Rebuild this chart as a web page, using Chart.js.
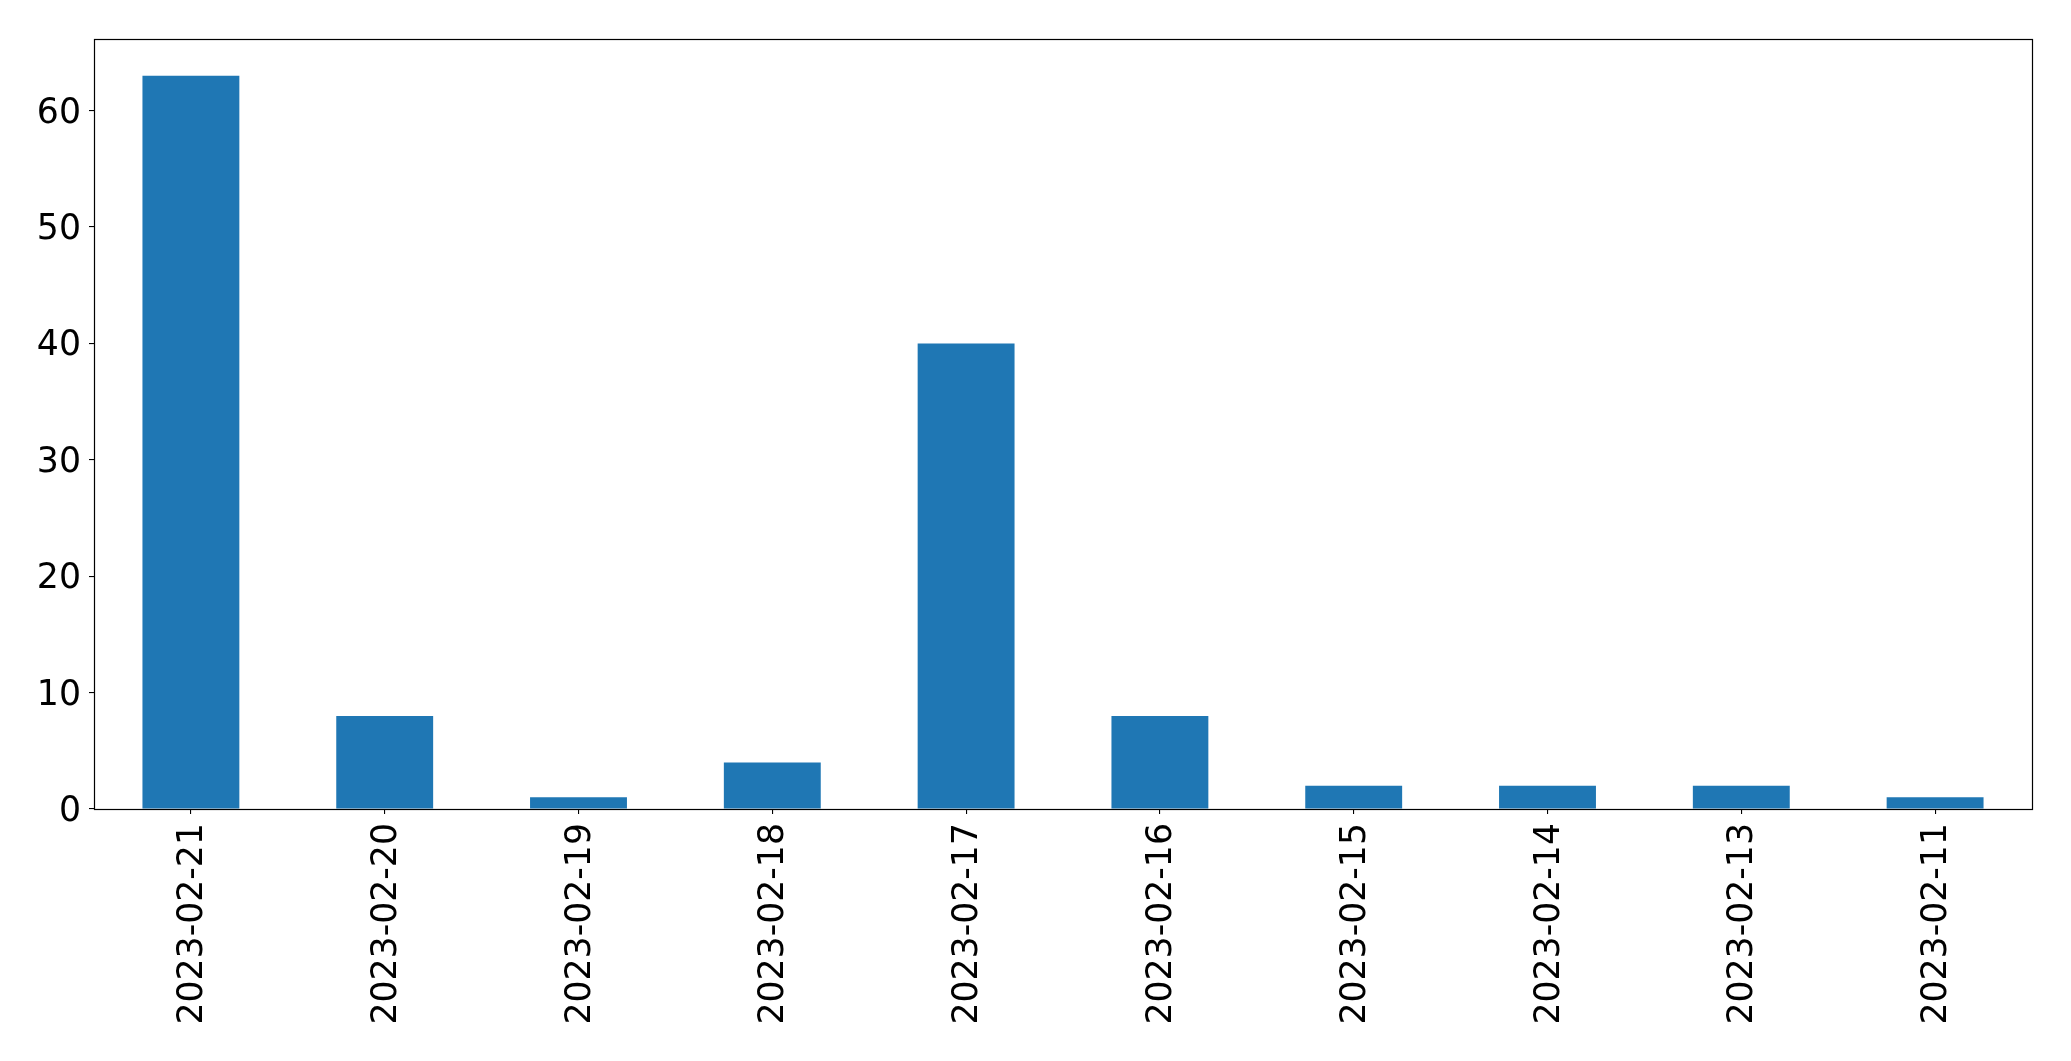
<!DOCTYPE html>
<html>
<head>
<meta charset="utf-8">
<script src="https://cdn.jsdelivr.net/npm/chart.js@4/dist/chart.umd.min.js"></script>
<style>
  html, body { margin: 0; padding: 0; background: #fff; }
  canvas { display: block; }
</style>
</head>
<body>
<canvas id="barChart" width="2071" height="1061"></canvas>
<script>
const dates = ['2023-02-21', '2023-02-20', '2023-02-19', '2023-02-18', '2023-02-17',
               '2023-02-16', '2023-02-15', '2023-02-14', '2023-02-13', '2023-02-11'];
const counts = [63, 8, 1, 4, 40, 8, 2, 2, 2, 1];
const yTicks = [0, 10, 20, 30, 40, 50, 60];

const fontSpec = { family: 'DejaVu Sans', size: 34.7 };

// matplotlib style frame around the plot area
const frame = {
  id: 'frame',
  afterDraw(chart) {
    const { ctx, chartArea: a } = chart;
    const l = Math.round(a.left) + 0.5, t = Math.round(a.top) + 0.5;
    const r = Math.round(a.right) + 0.5, b = Math.round(a.bottom) + 0.5;
    ctx.save();
    ctx.strokeStyle = '#000';
    ctx.lineWidth = 1.2;
    ctx.strokeRect(l, t, r - l, b - t);
    ctx.restore();
  }
};

new Chart(document.getElementById('barChart').getContext('2d'), {
  type: 'bar',
  data: {
    labels: dates,
    datasets: [{
      data: counts,
      backgroundColor: '#1f77b4',
      borderWidth: 0,
      categoryPercentage: 1.0,
      barPercentage: 0.5
    }]
  },
  options: {
    responsive: false,
    devicePixelRatio: 1,
    animation: false,
    layout: { padding: { top: 39, right: 39, left: 0, bottom: 0 } },
    plugins: { legend: { display: false }, tooltip: { enabled: false } },
    scales: {
      x: {
        offset: true,
        grid: { offset: false, drawOnChartArea: false, drawTicks: true, tickLength: 5, color: '#000', lineWidth: 1.1 },
        border: { display: false },
        ticks: { color: '#000', font: fontSpec, minRotation: 90, maxRotation: 90, padding: 9, labelOffset: 2, autoSkip: false },
        afterFit(scale) { scale.height = 252; }
      },
      y: {
        min: 0,
        max: 66.15,
        grid: { drawOnChartArea: false, drawTicks: true, tickLength: 5, color: '#000', lineWidth: 1.1 },
        border: { display: false },
        ticks: { color: '#000', font: fontSpec, padding: 8, labelOffset: 3 },
        afterBuildTicks(scale) { scale.ticks = yTicks.map(v => ({ value: v })); },
        afterFit(scale) { scale.width = 94; }
      }
    }
  },
  plugins: [frame]
});
</script>
</body>
</html>
